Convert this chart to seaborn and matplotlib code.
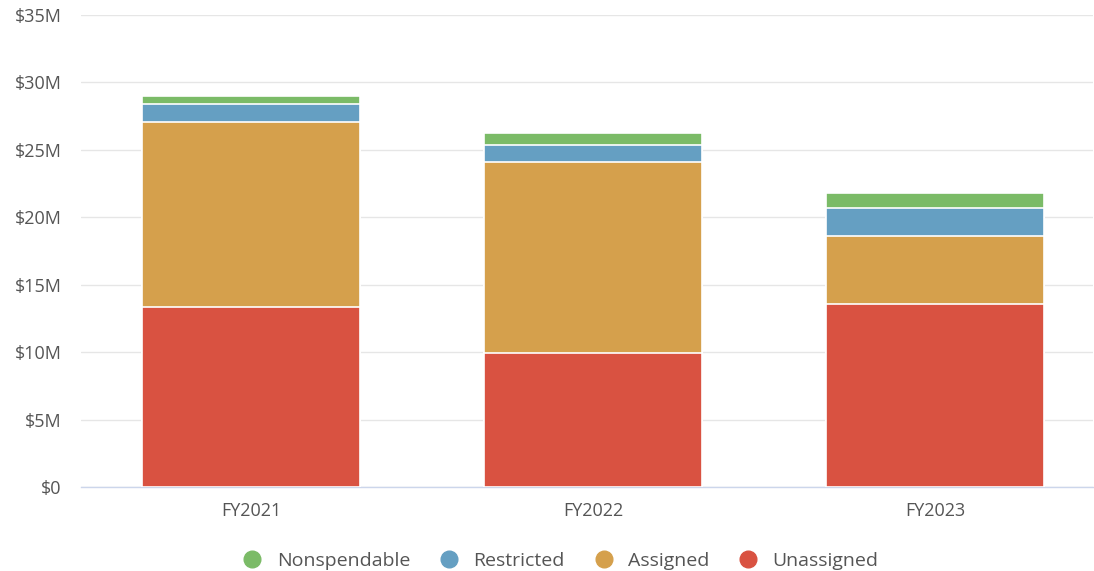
import numpy as np
import pandas as pd
import matplotlib
matplotlib.use("Agg")
import matplotlib.pyplot as plt
from matplotlib.lines import Line2D
from matplotlib.ticker import FuncFormatter, MultipleLocator
import seaborn as sns

# Fund balance components, in millions of dollars
years = ["FY2021", "FY2022", "FY2023"]
unassigned = [13.37, 9.96, 13.59]
assigned = [13.70, 14.12, 5.02]
restricted = [1.33, 1.30, 2.10]
nonspendable = [0.59, 0.85, 1.09]

series = ["Nonspendable", "Restricted", "Assigned", "Unassigned"]
colors = {
    "Nonspendable": "#7bbb67",
    "Restricted": "#659fc2",
    "Assigned": "#d5a04c",
    "Unassigned": "#d95241",
}

sns.set_theme(style="white")
plt.rcParams["font.family"] = ["Open Sans", "DejaVu Sans"]

df = pd.DataFrame({
    "year": years,
    "Unassigned": unassigned,
    "Assigned": assigned,
    "Restricted": restricted,
    "Nonspendable": nonspendable,
})
# stack from the bottom: Unassigned, Assigned, Restricted, Nonspendable
stack_order = ["Unassigned", "Assigned", "Restricted", "Nonspendable"]
cum = df[stack_order].cumsum(axis=1)

fig = plt.figure(figsize=(10.94, 5.71), dpi=100)
ax = fig.add_axes([0.074, 0.147, 0.925, 0.827])

# draw cumulative totals, tallest first so lower segments sit on top
for name in reversed(stack_order):
    sns.barplot(x=df["year"], y=cum[name], color=colors[name], width=0.637,
                edgecolor="white", linewidth=1.2, saturation=1, ax=ax, zorder=3)

ax.set_ylim(0, 35)
ax.yaxis.set_major_locator(MultipleLocator(5))
ax.yaxis.set_major_formatter(FuncFormatter(lambda v, p: "$0" if v == 0 else f"${v:.0f}M"))
ax.grid(axis="y", color="#e6e6e6", linewidth=1, zorder=0)
ax.set_axisbelow(True)
ax.set_xlim(-0.497, 2.462)
for s in ["top", "right", "left"]:
    ax.spines[s].set_visible(False)
ax.spines["bottom"].set_color("#ccd6eb")
ax.spines["bottom"].set_linewidth(1)
ax.set_xlabel("")
ax.set_ylabel("")
ax.tick_params(axis="both", length=0, labelsize=13, colors="#555555")
ax.tick_params(axis="y", pad=14)
ax.tick_params(axis="x", pad=11)

handles = [Line2D([0], [0], marker="o", linestyle="", markersize=12,
                  markerfacecolor=colors[n], markeredgecolor=colors[n]) for n in series]
fig.legend(handles, series, loc="center", bbox_to_anchor=(0.508, 0.018),
           ncol=4, frameon=False, fontsize=14, handletextpad=0.25,
           columnspacing=1.0, labelcolor="#555555")

fig.savefig("out.png", dpi=100)
